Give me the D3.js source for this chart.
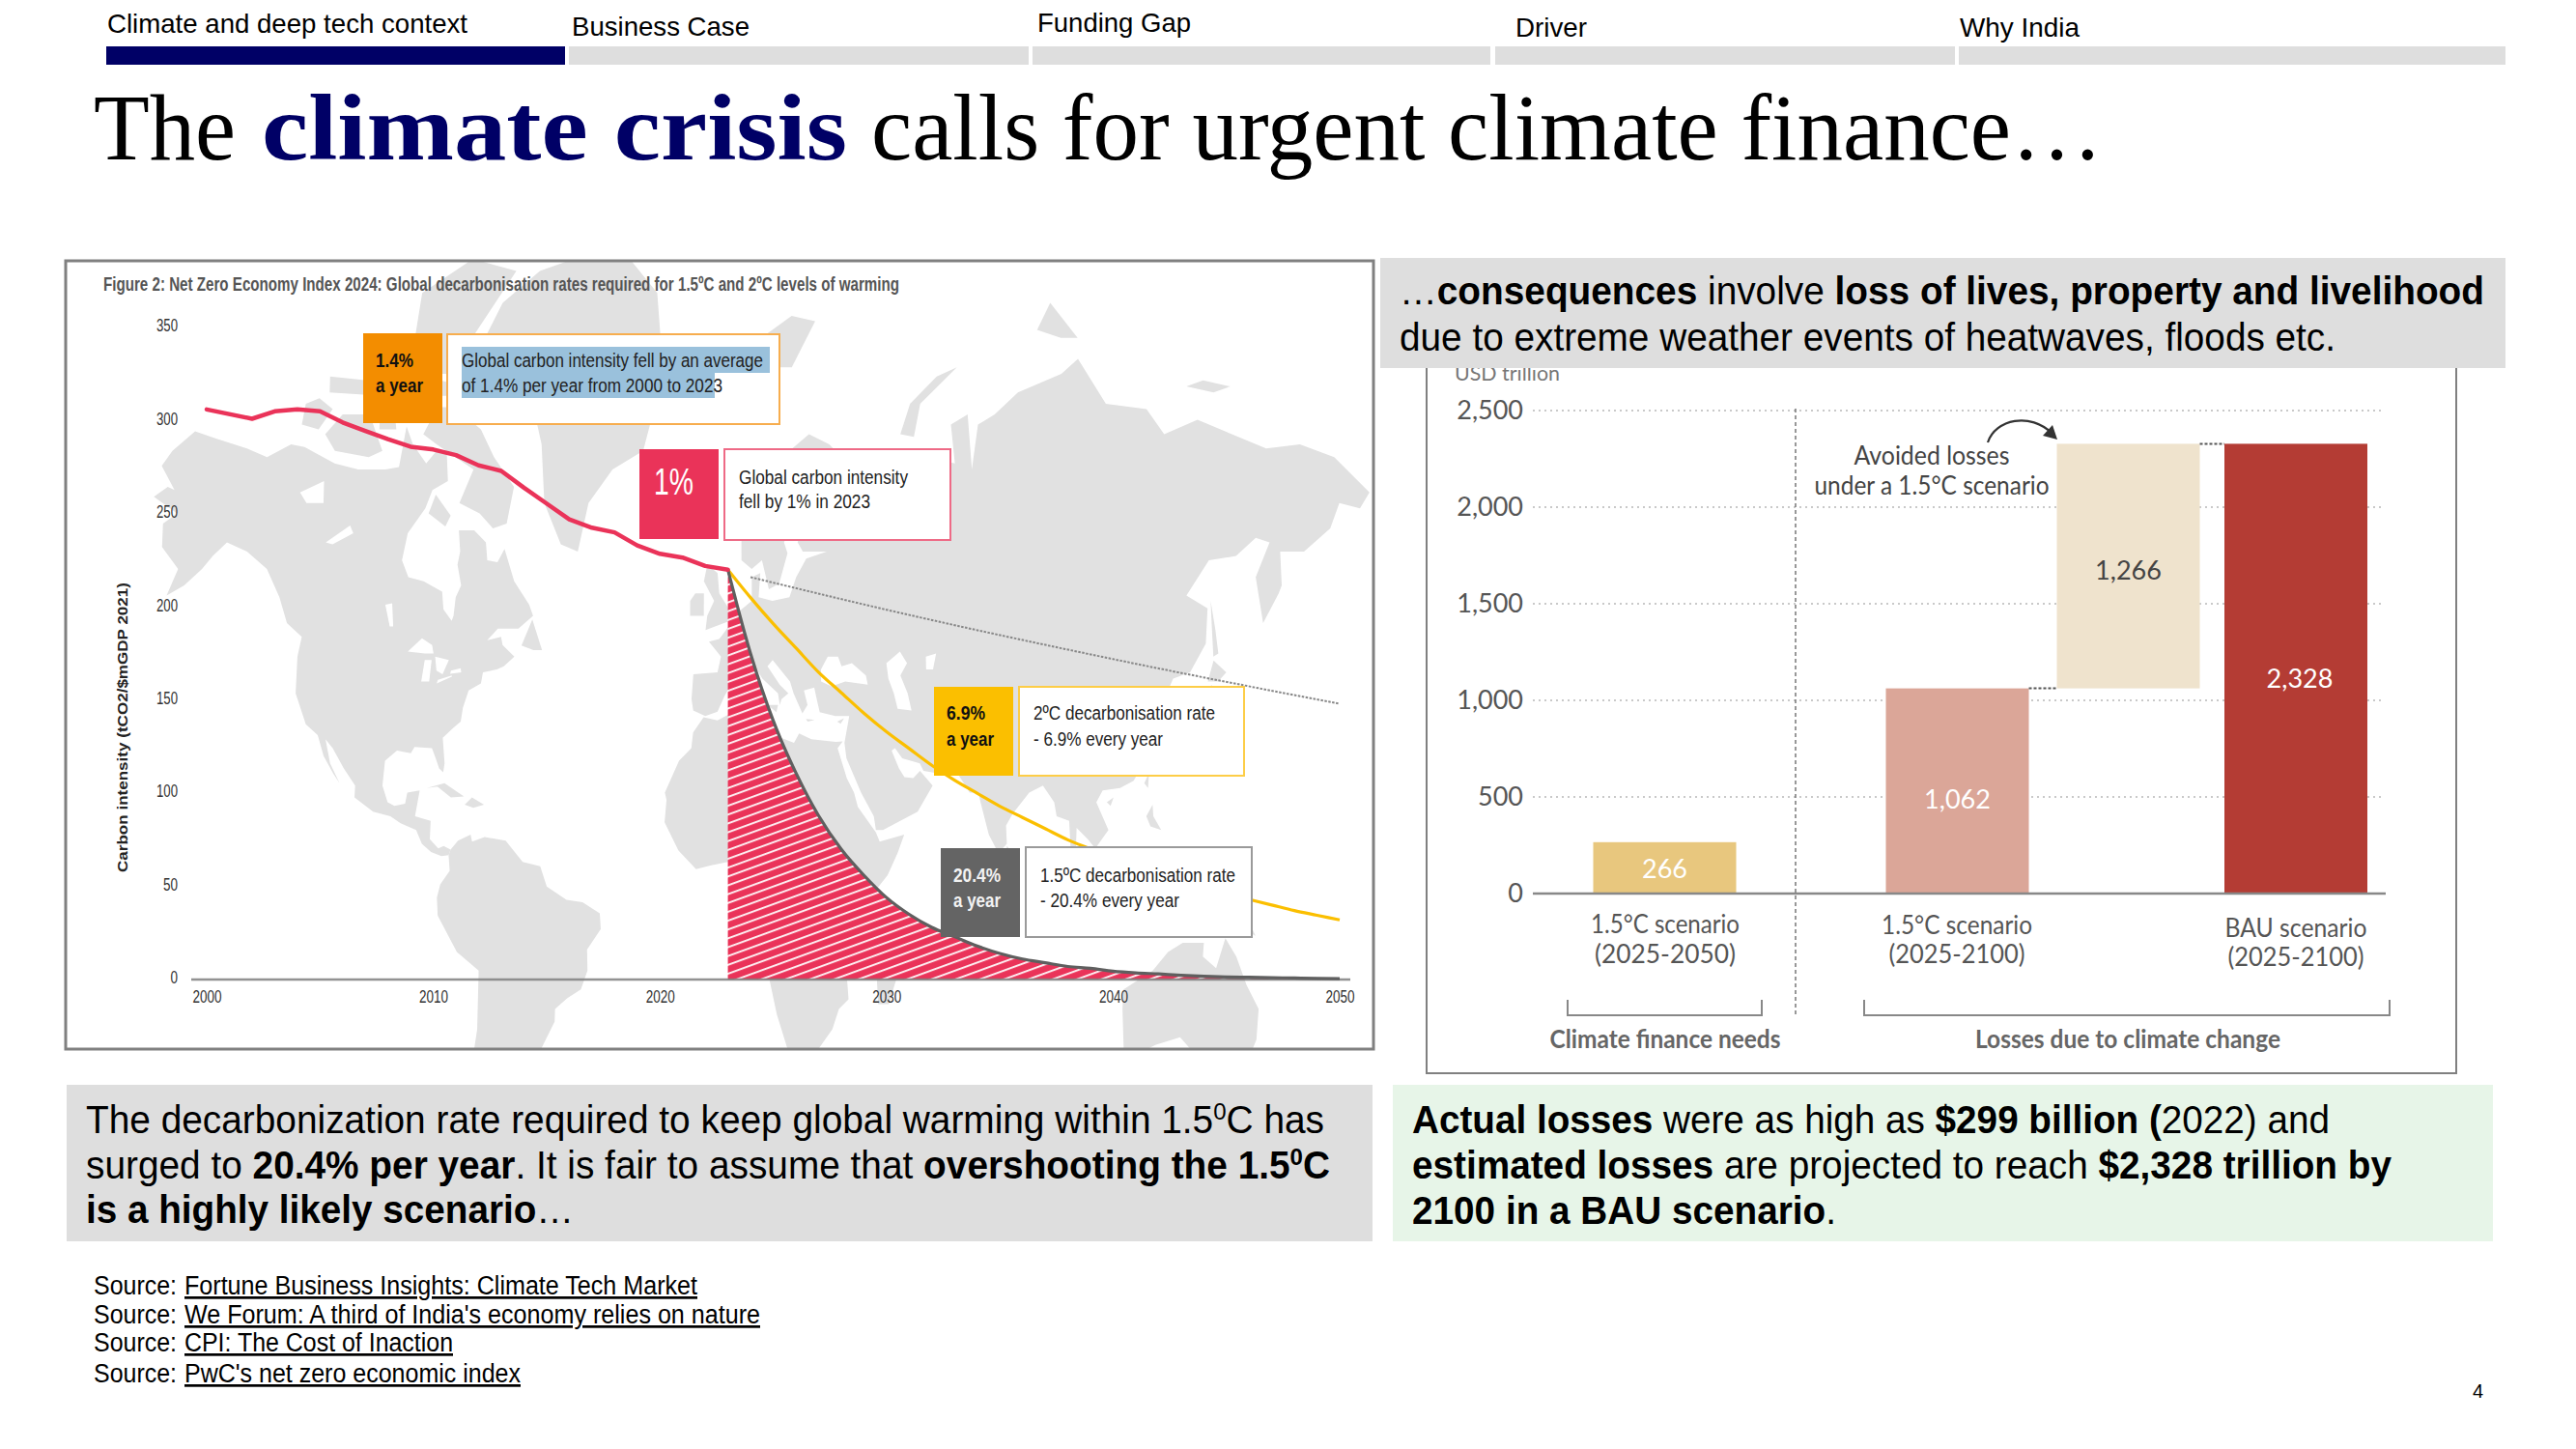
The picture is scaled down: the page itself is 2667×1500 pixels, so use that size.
<!DOCTYPE html>
<html>
<head>
<meta charset="utf-8">
<script src="https://cdnjs.cloudflare.com/ajax/libs/d3/7.8.5/d3.min.js"></script>
<style>
  html, body { margin: 0; padding: 0; background: #fff; }
  svg { display: block; }
  text { font-family: "Liberation Sans", Arial, sans-serif; }
</style>
</head>
<body>
<svg id="slide" width="2667" height="1500"></svg>
<script>
// left chart values
const histYears = [2000, 2002, 2003, 2004, 2005, 2006, 2007, 2008, 2009, 2010, 2011, 2012, 2013, 2014, 2015, 2016, 2017, 2018, 2019, 2020, 2021, 2022, 2023];
const histValues = [306, 301, 305, 306, 305, 299, 294.5, 290, 286, 284.5, 281.5, 276, 273, 264, 255.5, 247, 242.5, 240, 233, 228.5, 226.5, 222, 220];
const pathYears = d3.range(2023, 2051);
const path15 = [220, 175, 139, 111, 88, 70, 56, 44, 35, 28, 23, 18, 14, 11, 9, 7, 6, 4.5, 3.6, 3, 2.3, 1.8, 1.4, 1.2, 1, 0.8, 0.6, 0.5];
const path20 = [220, 205, 191, 178, 165, 154, 143, 133, 124, 115, 107, 100, 93, 87, 81, 75, 70, 65, 61, 57, 53, 49, 46, 43, 40, 37, 34.5, 32];
const trendYears = [2024, 2030, 2040, 2050];
const trendValues = [216, 198.5, 172, 148];
const leftYTicks = [0, 50, 100, 150, 200, 250, 300, 350];
const leftXTicks = [2000, 2010, 2020, 2030, 2040, 2050];

// right chart values
const barNames = ["needs", "loss15", "avoided", "bau"];
const barLow = [0, 0, 1062, 0];
const barHigh = [266, 1062, 2328, 2328];
const barLabels = ["266", "1,062", "1,266", "2,328"];
const rightYTicks = [0, 500, 1000, 1500, 2000, 2500];

// nav and sources
const navLabels = ["Climate and deep tech context", "Business Case", "Funding Gap", "Driver", "Why India"];
const sourceLinks = ["Fortune Business Insights: Climate Tech Market", "We Forum: A third of India's economy relies on nature", "CPI: The Cost of Inaction", "PwC's net zero economic index"];

// background map, rough coastlines as lon/lat
const land = [
  [[-168,65.6],[-164,66.5],[-162,66.2],[-166,68.3],[-163,69.5],[-156.5,71.3],[-150,70.5],[-141,69.7],[-135,69],[-128,70],[-124,69.8],[-115,68.5],[-108,68],[-100,68],[-96,68.2],[-94,71.8],[-92,70],[-88,68.5],[-85,69.5],[-82,69.5],[-81.5,67],[-86,66.2],[-88,64.5],[-93,62],[-94.5,59],[-92.5,57],[-88,56.5],[-82.5,55.2],[-82,52.9],[-79.5,51.3],[-79,52],[-78.5,54.5],[-77,56],[-78.2,58.5],[-77.5,60],[-78,62.3],[-73.5,62.3],[-70,61],[-69.5,59],[-66.5,58.8],[-64.5,60.3],[-61.5,56.5],[-57,53.5],[-55.8,52],[-60,50.2],[-66,50.2],[-69,48.5],[-65,49],[-64.5,47.8],[-61,46],[-64,44.5],[-66,44],[-70,43.5],[-70.5,41.7],[-74,40.5],[-75.5,37.5],[-76,35],[-78,33.9],[-81,32],[-80.2,27],[-80.5,25.2],[-81.7,26],[-82.8,28],[-84,30],[-89,30.2],[-90,29],[-94,29.5],[-97.3,27.5],[-97.7,22.5],[-96,19],[-94,18.2],[-91,18.7],[-90.5,21],[-87,21.5],[-88,16],[-83.5,15],[-83.5,11],[-81,9],[-79.5,9.5],[-77.5,8.7],[-78,7.5],[-80,7.3],[-83,8.2],[-85.7,10],[-87.5,13],[-92,14.5],[-95,16],[-100,17],[-105.5,20],[-105.5,22.5],[-109,26],[-112.5,30],[-114.7,31.7],[-113,27],[-110,23],[-112,25],[-115,28.5],[-117,32.5],[-120.6,34.5],[-124,40],[-124,46],[-123,49],[-127.5,51],[-130,54.5],[-134,58],[-140,60],[-146,61],[-150,59.5],[-153,58],[-158,56],[-163,54.7],[-160,58],[-165,60.5],[-165,63],[-161,64]],
  [[-73,78.2],[-66,81],[-55,82.5],[-32,83.6],[-20,81.5],[-18,76],[-22,72],[-24,69.5],[-33,68],[-40,65],[-43,60],[-48,60.8],[-53,65],[-54,70],[-58,75.5],[-68,76]],
  [[-80,73.7],[-72,71.5],[-68,69],[-62,66.5],[-64,63],[-68,62.5],[-72,64],[-78,65],[-74,68],[-85,70],[-89,71],[-85,73.7]],
  [[-105,69],[-101,69.5],[-105,73],[-113,73],[-118,71],[-115,69.5]],
  [[-125,72],[-120,71.5],[-116,73.5],[-120,74.5],[-124,74]],
  [[-90,76.5],[-78,76.5],[-75,79],[-62,82.5],[-75,83],[-90,81.5],[-92,79]],
  [[-92,74.7],[-80,74.7],[-80,75.7],[-92,76.5]],
  [[-117,75],[-106,74.8],[-106,76],[-117,76.3]],
  [[-87,64],[-82,62.7],[-80.5,63.8],[-85,65.8]],
  [[-102,71.5],[-97,71.5],[-98,74],[-102,73.5]],
  [[-77.5,8.7],[-75.5,10.7],[-72,12],[-71.5,10.5],[-68,11.5],[-62,10.7],[-57,6],[-52,5],[-50,0.5],[-44.5,-2.5],[-40,-3],[-35.2,-5.5],[-35,-9],[-39,-13.5],[-39,-18],[-41,-22],[-45,-23.8],[-48.5,-26],[-48.7,-28.5],[-53,-34],[-57,-34.5],[-57,-38],[-62,-39],[-65,-41],[-66,-45],[-75,-45],[-73,-37],[-71,-30],[-70,-18],[-76,-14],[-81,-6],[-81,-2],[-80,1],[-77.5,4],[-78,7.5]],
  [[-6,35.8],[-2,35.2],[3,36.9],[10,37.3],[11,33.5],[15,32.3],[20,31],[21.5,32.8],[25,31.7],[32,31.2],[34,31.3],[32.5,30],[35,24],[37,21],[38,18],[43,12.5],[44,10.5],[51,12],[49,8],[46,3],[41,-2],[39,-6],[40.5,-11],[40.5,-15],[35,-20],[35.5,-24],[32.8,-26],[31,-30],[27,-33.8],[20,-34.8],[18.3,-34],[15,-27],[12,-17],[13.5,-9],[9,-1],[9.7,3.5],[6,4.3],[3,6.3],[-4,5.2],[-8,4.4],[-13,8.5],[-17,14.7],[-16.5,19.5],[-17,21],[-13,27.5],[-9.5,30],[-9,33]],
  [[-9,37],[-9.5,39],[-9,43.2],[-2,43.5],[-1,46],[-4.5,48.3],[-1.5,48.7],[2,51],[4,52.5],[8,54],[8,57],[10.5,57.5],[10,54.5],[14,54],[19,54.5],[21,57],[24,59.2],[30,60],[23,60],[21.5,61],[25,65],[22,65.5],[17.5,61],[18.5,59.8],[16,56.2],[13,55.5],[11,59],[8,58],[5,59],[5,62],[12,65.5],[17,69],[25,71],[31,70],[41,67],[40,65],[35,64.5],[40,64.5],[44,66],[44,68.5],[54,68.7],[60,69],[68,68.5],[67,72],[72,73],[73,68],[75,72],[80,73],[87,75],[100,76.5],[105,77.6],[113,74],[125,73.5],[130,71],[140,72.5],[150,71],[160,69.7],[170,70],[180,69],[190,66],[187,64.5],[181,65],[178,62.5],[170,60],[163,60],[163,56],[162,55],[157,51],[155.5,57],[160,61],[156,61.5],[150,59.5],[142,59],[135,54.7],[141,53],[140,48],[135,43.5],[130,42.5],[127.5,39.5],[129.5,36],[126.5,34.5],[126,37],[125,39.8],[121.5,39],[118,39],[122,37],[119,35],[122,31],[121,28],[117,23.5],[113,22],[108,21.5],[106,19],[109,13],[105,9],[103,11],[100,13.5],[99.5,9],[103.5,1.5],[100.5,3.5],[98,8],[98,15],[94.5,16],[94,19],[91,22.5],[87,21],[82,16.5],[80,14],[80,10],[77.5,8],[75,12],[73,19],[72.5,21],[70,21],[68,23.5],[66.5,25.2],[61,25],[57,25.5],[56,27],[51,28],[49,30],[48,29.5],[50,26],[51.5,24.2],[54,24],[56,25.5],[59.5,22.5],[55,17],[45,13],[43,13],[42.5,16],[39,21],[35,28],[34.5,31],[36,36],[32,36],[27.5,36.7],[26.5,39.5],[26,41],[23,40.5],[24,38],[22.5,36.5],[20,40],[19,42],[14,45.5],[12.5,44.5],[16,41.5],[18.5,40],[16.5,39],[16,38],[15.5,40],[11,42.5],[9,44.3],[3.5,43.2],[0,39.5],[-2,36.8],[-5.5,36]],
  [[-5.5,50],[1,51.2],[1.5,52.8],[-1.5,55],[-2,57.5],[-5,58.5],[-6,56.5],[-3,54],[-5,52]],
  [[-10,52],[-6,52],[-6,55],[-8.5,55],[-10,54]],
  [[-24,65.5],[-18,66.3],[-14,65],[-18,63.5],[-22.5,64]],
  [[11,79],[20,80.3],[27,80],[20,77],[15,77]],
  [[52,71],[56,70.7],[58,74],[69,77],[63,76.3],[55,74]],
  [[93,79.5],[100,79],[105,79],[97,81]],
  [[137,75.5],[145,75],[150,75.5],[142,76]],
  [[142,54],[143,50],[143.5,46.5],[142,46],[142,50]],
  [[140,42],[142,45.4],[145.5,43.5],[143,42]],
  [[131,34],[136,33.5],[141,35.5],[142,39.5],[141,41.5],[139.8,40],[136.5,37],[133,35.5]],
  [[130,33.5],[132,33],[131,31],[130,31.5]],
  [[120,23],[121.5,25],[121,22]],
  [[109,19],[111,20],[110,18.2]],
  [[120,16],[122,18.5],[122,16],[124,13],[121,13.8]],
  [[122,7],[126,9.5],[126,6.5]],
  [[109,1],[113,3],[117,7],[119,5],[117.5,1],[116,-4],[110,-3]],
  [[95.5,5.5],[100,2.5],[106,-3],[105.5,-6],[102,-4],[98,1]],
  [[105.5,-6.8],[110,-6.5],[114.5,-7.8],[114,-8.7],[106,-7.7]],
  [[119.5,-5],[120,1],[125,1.5],[121,0],[123,-5],[121,-3]],
  [[131,-1],[141,-2.7],[148,-7],[150.5,-10.5],[144,-7.8],[138,-8],[133,-4]],
  [[114,-22],[122,-18],[126,-14],[130,-12],[136,-12],[136,-15],[140,-17.5],[142,-11],[145.5,-15],[149,-21],[153,-26],[153,-32],[150,-37.5],[146,-39],[140,-38],[136,-35],[131,-31.5],[124,-33],[118,-35],[115,-34],[114,-26]],
  [[49,-12],[50.5,-16],[47,-25],[44,-25],[43.5,-20],[46,-16]],
  [[-85,22],[-80,23],[-74.3,20.2],[-78,20],[-82,22.3]],
  [[-74,18.5],[-72,20],[-68.5,18.5],[-71.5,17.8]],
  [[80,9.5],[82,7.5],[80.5,6],[79.7,8]],
  [[-59,47.7],[-56,51.5],[-53,47],[-55.5,47]],
  [[12.5,38],[15.5,38],[15,36.7]],
  [[8.3,41],[9.7,41],[9.5,39],[8.5,39]],
  [[23.5,35.5],[26,35.3],[24,35]],
  [[32.5,35],[34.5,35.6],[33.5,34.6]]
];
const inlandWater = [
  [[28,42],[31,41.2],[35,42],[41.5,41.5],[41,43],[37,45],[34,44.5],[33,46],[30,46],[28,44]],
  [[47,45],[51,46.8],[53,45],[51,43],[53,40],[54,37],[50,37.3],[49,40],[47.5,42.5]],
  [[58.5,46],[61.5,46.5],[60.5,44],[58.5,44]],
  [[-92,46.8],[-88,48.8],[-85,47.8],[-84.5,46.5],[-87,46.5]],
  [[-87.8,42],[-85.5,42],[-85,45.5],[-87,45.5]],
  [[-84,46],[-80,45.5],[-81.7,43.2],[-83.5,43.8]],
  [[-83.3,41.7],[-79,42.8],[-79,43],[-83,42.3]],
  [[-79.5,43.3],[-76.3,43.5],[-76.5,44.2],[-79.3,43.8]],
  [[-125,66],[-118,67],[-118,65],[-123,65]],
  [[-117,61],[-110,62.8],[-109,62],[-115,60.8]],
  [[-99,53.5],[-97,53.7],[-96.5,50.5],[-97.5,50.5]]
];

const svg = d3.select("#slide");

function mercator(lat) {
  let m = Math.log(Math.tan(Math.PI / 4 + (lat * Math.PI) / 360));
  return m > 1.75 ? 1.75 + (m - 1.75) * 0.68 : m;
}
const mapProjection = d3.geoTransform({
  point: function(lon, lat) {
    this.stream.point(750 + lon * (3.68 - 0.0025 * Math.abs(lat)), 920 - 265 * mercator(lat));
  }
});
const mapPath = d3.geoPath(mapProjection);

// squeezes text to the width it has in the picture
function fit(parent, x, y, str, size, width, attrs) {
  let t = parent
    .append("text")
    .attr("x", x)
    .attr("y", y)
    .attr("font-size", size)
    .text(str);
  if (width) t.attr("textLength", width).attr("lengthAdjust", "spacingAndGlyphs");
  Object.keys(attrs || {}).forEach(k => t.attr(k, attrs[k]));
  return t;
}

// rich text: runs of [string, bold, superscript]
function rich(parent, x, y, size, runs, width) {
  let t = parent.append("text").attr("x", x).attr("y", y).attr("font-size", size).attr("fill", "#000");
  runs.forEach(r => {
    let s = t.append("tspan").text(r[0]);
    if (r[1]) s.attr("font-weight", "bold");
    if (r[2]) s.attr("font-size", size * 0.62).attr("dy", -size * 0.36);
    if (r[3]) s.attr("dy", size * 0.36);
  });
  if (width) t.attr("textLength", width).attr("lengthAdjust", "spacingAndGlyphs");
  return t;
}

drawHeader();
drawLeftChart();
drawRightChart();
drawBottom();

function drawHeader() {
  let navX = [[110, 585], [589, 1065], [1069, 1543], [1548, 2024], [2028, 2594]];
  let textX = [111, 592, 1074, 1569, 2029];
  let textY = [34, 37, 33, 38, 38];
  let textW = [373, 184, 159, 74, 124];
  let nav = svg.append("g").attr("class", "nav");
  navLabels.forEach((label, i) => {
    nav.append("rect")
      .attr("x", navX[i][0]).attr("y", 48)
      .attr("width", navX[i][1] - navX[i][0]).attr("height", 19)
      .attr("fill", i === 0 ? "#000066" : "#dedede");
    fit(nav, textX[i], textY[i], label, 28, textW[i], { fill: "#000" });
  });

  // each run has its own width, the bold serif is wider in the picture
  let serif = "'Liberation Serif', 'Times New Roman', serif";
  fit(svg, 97, 165, "The", 98, 147, { fill: "#000" }).style("font-family", serif);
  fit(svg, 271, 165, "climate crisis", 98, 606, { fill: "#000066", "font-weight": "bold" }).style("font-family", serif);
  fit(svg, 902, 165, "calls for urgent climate finance…", 98, 1275, { fill: "#000" }).style("font-family", serif);
}

function drawLeftChart() {
  let g = svg.append("g").attr("class", "left-chart");
  let defs = svg.append("defs");
  defs.append("clipPath").attr("id", "mapClip")
    .append("rect").attr("x", 68).attr("y", 270).attr("width", 1354).attr("height", 816);

  let hatch = defs.append("pattern")
    .attr("id", "hatch")
    .attr("patternUnits", "userSpaceOnUse")
    .attr("width", 40).attr("height", 8.6)
    .attr("patternTransform", "rotate(-20)");
  hatch.append("rect").attr("width", 40).attr("height", 8.6).attr("fill", "#ea3359");
  hatch.append("rect").attr("width", 40).attr("height", 2).attr("fill", "#ffffff").attr("opacity", 0.9);

  // map
  let map = g.append("g").attr("clip-path", "url(#mapClip)");
  map.selectAll("path.land")
    .data(land)
    .enter()
    .append("path")
    .attr("class", "land")
    .attr("fill", "#e1e1e1")
    .attr("d", d => mapPath({ type: "Polygon", coordinates: [d.concat([d[0]])] }));
  map.selectAll("path.water")
    .data(inlandWater)
    .enter()
    .append("path")
    .attr("class", "water")
    .attr("fill", "#ffffff")
    .attr("d", d => mapPath({ type: "Polygon", coordinates: [d.concat([d[0]])] }));

  g.append("rect")
    .attr("x", 68).attr("y", 270).attr("width", 1354).attr("height", 816)
    .attr("fill", "none").attr("stroke", "#808080").attr("stroke-width", 3);

  let x = d3.scaleLinear().domain([2000, 2050]).range([214, 1387]);
  let y = d3.scaleLinear().domain([0, 350]).range([1014, 339]);

  fit(g, 107, 301, "Figure 2: Net Zero Economy Index 2024: Global decarbonisation rates required for 1.5ºC and 2ºC levels of warming", 20, 824, { fill: "#555", "font-weight": "bold" });

  fit(g, 0, 0, "Carbon intensity (tCO2/$mGDP 2021)", 15, 300, {
    fill: "#222",
    "font-weight": "bold",
    "text-anchor": "middle",
    transform: "translate(132,753) rotate(-90)"
  });

  let yAxis = g.append("g")
    .attr("transform", "translate(188,0)")
    .call(d3.axisLeft(y).tickValues(leftYTicks).tickSize(0).tickPadding(4));
  yAxis.select(".domain").remove();
  yAxis.selectAll("text")
    .attr("font-size", 18)
    .attr("fill", "#333")
    .attr("y", -2)
    .attr("textLength", d => (d === 0 ? 7.5 : d < 100 ? 15 : 22))
    .attr("lengthAdjust", "spacingAndGlyphs");

  let xAxis = g.append("g")
    .attr("transform", "translate(0,1014)")
    .call(d3.axisBottom(x).tickValues(leftXTicks).tickFormat(d3.format("d")).tickSize(0).tickPadding(11));
  xAxis.select(".domain").remove();
  xAxis.selectAll("text")
    .attr("font-size", 18)
    .attr("fill", "#333")
    .attr("textLength", 30)
    .attr("lengthAdjust", "spacingAndGlyphs");

  // hatched area under the 1.5C path
  let rows15 = pathYears.map((yr, i) => ({ yr: yr, v: path15[i] }));
  let rows20 = pathYears.map((yr, i) => ({ yr: yr, v: path20[i] }));
  let line = d3.line().x(d => x(d.yr)).y(d => y(d.v)).curve(d3.curveMonotoneX);
  let area = d3.area().x(d => x(d.yr)).y0(y(0)).y1(d => y(d.v)).curve(d3.curveMonotoneX);

  g.append("path").attr("d", area(rows15)).attr("fill", "url(#hatch)");

  g.append("line")
    .attr("x1", 198).attr("x2", 1398)
    .attr("y1", y(0)).attr("y2", y(0))
    .attr("stroke", "#808080").attr("stroke-width", 2.5).attr("opacity", 0.85);

  g.append("path")
    .attr("d", line(trendYears.map((yr, i) => ({ yr: yr, v: trendValues[i] }))))
    .attr("fill", "none").attr("stroke", "#888").attr("stroke-width", 2).attr("stroke-dasharray", "2.5 1.5");
  g.append("path")
    .attr("d", line(rows20))
    .attr("fill", "none").attr("stroke", "#fbbf00").attr("stroke-width", 3.2);
  g.append("path")
    .attr("d", line(rows15))
    .attr("fill", "none").attr("stroke", "#5f5f5f").attr("stroke-width", 3.2);
  g.append("path")
    .attr("d", d3.line().x(d => x(d.yr)).y(d => y(d.v))(histYears.map((yr, i) => ({ yr: yr, v: histValues[i] }))))
    .attr("fill", "none").attr("stroke", "#ea3359").attr("stroke-width", 4.5).attr("stroke-linejoin", "round").attr("stroke-linecap", "round");

  // callouts
  let callouts = [
    { tag: [376, 345, 82, 93], tagFill: "#f38d00", box: [463, 346, 344, 93], stroke: "#f7ad4e", tagText: [["1.4%", 39], ["a year", 49]], tagColor: "#111", tagX: 389, tagY: [380, 406], lines: [], tx: 478, ty: [] },
    { tag: [662, 465, 82, 93], tagFill: "#ea3359", box: [750, 465, 234, 94], stroke: "#ee6a86", tagText: [], lines: [["Global carbon intensity", 175], ["fell by 1% in 2023", 136]], tx: 765, ty: [501, 526] },
    { tag: [967, 711, 82, 92], tagFill: "#fbbf00", box: [1055, 711, 233, 92], stroke: "#fdcd47", tagText: [["6.9%", 40], ["a year", 49]], tagColor: "#111", tagX: 980, tagY: [745, 772], lines: [["2ºC decarbonisation rate", 188], ["- 6.9% every year", 134]], tx: 1070, ty: [745, 772] },
    { tag: [974, 878, 82, 92], tagFill: "#646464", box: [1062, 877, 234, 93], stroke: "#9a9a9a", tagText: [["20.4%", 49], ["a year", 49]], tagColor: "#f2f2f2", tagX: 987, tagY: [913, 939], lines: [["1.5ºC decarbonisation rate", 202], ["- 20.4% every year", 144]], tx: 1077, ty: [913, 939] }
  ];
  callouts.forEach(c => {
    g.append("rect").attr("x", c.tag[0]).attr("y", c.tag[1]).attr("width", c.tag[2]).attr("height", c.tag[3]).attr("fill", c.tagFill);
    g.append("rect").attr("x", c.box[0]).attr("y", c.box[1]).attr("width", c.box[2]).attr("height", c.box[3])
      .attr("fill", "#fff").attr("stroke", c.stroke).attr("stroke-width", 2);
    c.tagText.forEach((t, i) => {
      fit(g, c.tagX, c.tagY[i], t[0], 20, t[1], { fill: c.tagColor, "font-weight": "bold" });
    });
    c.lines.forEach((t, i) => {
      fit(g, c.tx, c.ty[i], t[0], 20, t[1], { fill: "#222" });
    });
  });

  // selection highlight on the first callout
  g.append("rect").attr("x", 478).attr("y", 359).attr("width", 319).attr("height", 27).attr("fill", "#9ac1dc");
  g.append("rect").attr("x", 478).attr("y", 386).attr("width", 262).attr("height", 26).attr("fill", "#9ac1dc");
  fit(g, 478, 380, "Global carbon intensity fell by an average", 20, 312, { fill: "#222" });
  fit(g, 478, 406, "of 1.4% per year from 2000 to 2023", 20, 270, { fill: "#222" });
  fit(g, 677, 512, "1%", 38, 41, { fill: "#fff" });
}

function drawRightChart() {
  let g = svg.append("g").attr("class", "right-chart");
  let rightFont = "Lato, 'Open Sans', sans-serif";

  g.append("rect")
    .attr("x", 1477).attr("y", 300).attr("width", 1066).attr("height", 811)
    .attr("fill", "#fff").attr("stroke", "#808080").attr("stroke-width", 2);

  let y = d3.scaleLinear().domain([0, 2500]).range([925, 425]);
  let x = d3.scaleOrdinal().domain(barNames).range([1723.5, 2026.5, 2203.5, 2377]);
  let barW = 148;
  let fills = ["#e8c77e", "#dba698", "#efe3cd", "#b43c34"];
  let labelColors = ["#fff", "#fff", "#444", "#fff"];
  let labelShift = [2, 9, 5, 11];
  let labelNudge = [0, 0, 0, 4];

  fit(g, 1506, 394, "USD trillion", 22, 109, { fill: "#777" }).style("font-family", rightFont);

  let yAxis = g.append("g")
    .attr("transform", "translate(1587,0)")
    .call(d3.axisLeft(y).tickValues(rightYTicks).tickFormat(d3.format(",")).tickSize(0).tickPadding(10));
  yAxis.select(".domain").remove();
  yAxis.selectAll("text")
    .attr("font-size", 27)
    .attr("fill", "#555")
    .style("font-family", rightFont);

  g.selectAll("line.grid")
    .data(rightYTicks.filter(d => d > 0))
    .enter()
    .append("line")
    .attr("class", "grid")
    .attr("x1", 1587).attr("x2", 2466)
    .attr("y1", d => y(d)).attr("y2", d => y(d))
    .attr("stroke", "#c9c9c9").attr("stroke-width", 2).attr("stroke-dasharray", "2 4");

  g.selectAll("rect.bar")
    .data(barNames)
    .enter()
    .append("rect")
    .attr("class", "bar")
    .attr("x", d => x(d) - barW / 2)
    .attr("width", barW)
    .attr("y", (d, i) => y(barHigh[i]))
    .attr("height", (d, i) => y(barLow[i]) - y(barHigh[i]))
    .attr("fill", (d, i) => fills[i]);

  g.append("line")
    .attr("x1", 1587).attr("x2", 2470).attr("y1", y(0)).attr("y2", y(0))
    .attr("stroke", "#888").attr("stroke-width", 2.5);

  // waterfall connectors
  [[1, 2, 1062], [2, 3, 2328]].forEach(c => {
    g.append("line")
      .attr("x1", x(barNames[c[0]]) + barW / 2).attr("x2", x(barNames[c[1]]) - barW / 2)
      .attr("y1", y(c[2])).attr("y2", y(c[2]))
      .attr("stroke", "#555").attr("stroke-width", 2).attr("stroke-dasharray", "3 2");
  });

  g.selectAll("text.value")
    .data(barNames)
    .enter()
    .append("text")
    .attr("class", "value")
    .attr("x", (d, i) => x(d) + labelNudge[i])
    .attr("y", (d, i) => (y(barLow[i]) + y(barHigh[i])) / 2 + labelShift[i] + 9)
    .attr("text-anchor", "middle")
    .attr("font-size", 27)
    .attr("fill", (d, i) => labelColors[i])
    .style("font-family", rightFont)
    .text((d, i) => barLabels[i]);

  // divider
  g.append("line")
    .attr("x1", 1859).attr("x2", 1859).attr("y1", 423).attr("y2", 1051)
    .attr("stroke", "#777").attr("stroke-width", 1.5).attr("stroke-dasharray", "4 3");

  // category labels
  let catRows = [
    [1724, 966, "1.5°C scenario", 154], [1724, 997, "(2025-2050)", 146],
    [2026, 967, "1.5°C scenario", 156], [2026, 997, "(2025-2100)", 141],
    [2377, 970, "BAU scenario", 147], [2377, 1000, "(2025-2100)", 141]
  ];
  catRows.forEach(r => {
    fit(g, r[0], r[1], r[2], 26, r[3], { fill: "#555", "text-anchor": "middle" }).style("font-family", rightFont);
  });

  // brackets
  [[1623, 1824], [1930, 2474]].forEach(b => {
    g.append("path")
      .attr("d", d3.line()([[b[0], 1035], [b[0], 1051], [b[1], 1051], [b[1], 1035]]))
      .attr("fill", "none").attr("stroke", "#888").attr("stroke-width", 2);
  });
  fit(g, 1724, 1085, "Climate finance needs", 26, 239, { fill: "#666", "text-anchor": "middle", "font-weight": "bold" }).style("font-family", rightFont);
  fit(g, 2203, 1085, "Losses due to climate change", 26, 316, { fill: "#666", "text-anchor": "middle", "font-weight": "bold" }).style("font-family", rightFont);

  // avoided losses note
  fit(g, 2000, 481, "Avoided losses", 26, 161, { fill: "#444", "text-anchor": "middle" }).style("font-family", rightFont);
  fit(g, 2000, 512, "under a 1.5°C scenario", 26, 243, { fill: "#444", "text-anchor": "middle" }).style("font-family", rightFont);

  g.append("path")
    .attr("d", "M2058,458 C2066,434 2102,426 2125,449")
    .attr("fill", "none").attr("stroke", "#333").attr("stroke-width", 2.2);
  g.append("path")
    .attr("d", d3.line()([[2130, 455], [2115, 451], [2125, 440]]))
    .attr("fill", "#333");

  // caption band sits over the top of the frame
  let cap = svg.append("g");
  cap.append("rect").attr("x", 1429).attr("y", 267).attr("width", 1165).attr("height", 114).attr("fill", "#dedede");
  rich(cap, 1449, 315, 40, [["…"], ["consequences", true], [" involve "], ["loss of lives, property and livelihood", true]], 1123);
  rich(cap, 1449, 363, 40, [["due to extreme weather events of heatwaves, floods etc."]], 969);
}

function drawBottom() {
  let g = svg.append("g").attr("class", "bottom");
  g.append("rect").attr("x", 69).attr("y", 1123).attr("width", 1352).attr("height", 162).attr("fill", "#dedede");
  g.append("rect").attr("x", 1442).attr("y", 1123).attr("width", 1139).attr("height", 162).attr("fill", "#e7f5e8");

  rich(g, 89, 1173, 40, [["The decarbonization rate required to keep global warming within 1.5"], ["0", false, true], ["C has", false, false, true]], 1282);
  rich(g, 89, 1220, 40, [["surged to "], ["20.4% per year", true], [". It is fair to assume that "], ["overshooting the 1.5", true], ["0", true, true], ["C", true, false, true]], 1288);
  rich(g, 89, 1266, 40, [["is a highly likely scenario", true], ["…"]], 505);

  rich(g, 1462, 1173, 40, [["Actual losses", true], [" were as high as "], ["$299 billion (", true], ["2022) and"]], 950);
  rich(g, 1462, 1220, 40, [["estimated losses", true], [" are projected to reach "], ["$2,328 trillion by", true]], 1014);
  rich(g, 1462, 1267, 40, [["2100 in a BAU scenario", true], ["."]], 439);

  let srcY = [1340, 1370, 1399, 1431];
  let srcW = [531, 596, 278, 348];
  sourceLinks.forEach((s, i) => {
    fit(g, 97, srcY[i], "Source:", 27, 86, { fill: "#000" });
    fit(g, 191, srcY[i], s, 27, srcW[i], { fill: "#000", "text-decoration": "underline" });
  });

  fit(g, 2560, 1447, "4", 20, 0, { fill: "#000" });
}
</script>
</body>
</html>
